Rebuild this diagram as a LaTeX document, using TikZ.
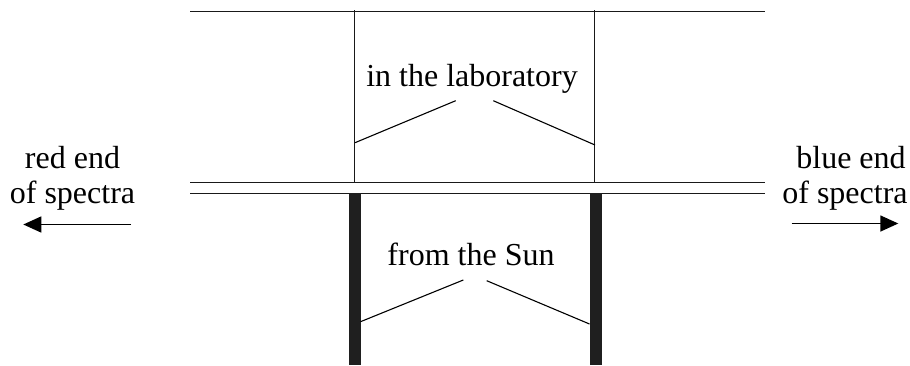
\documentclass[tikz,border=0pt]{standalone}
\usepackage{fontspec}
\setmainfont{Liberation Serif}
\usetikzlibrary{arrows.meta}
\begin{document}
\begin{tikzpicture}[x=1pt,y=-1pt,
  lbl/.style={inner sep=0pt,anchor=base,font=\fontsize{32}{38}\selectfont},
  rule/.style={line width=1.5pt,black!90},
  thin/.style={line width=1.3pt,black!90},
  ptr/.style={line width=1.1pt},
  bar/.style={fill=black!88,draw=none},
  arr/.style={line width=1.5pt,-{Triangle[length=18pt,width=16pt]}}]
\useasboundingbox (0,0) rectangle (910,365);
% horizontal rules
\coordinate (tl) at (190,11.7); \coordinate (tr) at (765,11.7);
\coordinate (ml) at (190,182.7); \coordinate (mr) at (765,182.7);
\coordinate (bl) at (190,193.3); \coordinate (br) at (765,193.3);
\draw[rule] (tl) -- (tr);
\draw[rule] (ml) -- (mr);
\draw[rule] (bl) -- (br);
% thin verticals (laboratory)
\coordinate (v1t) at (354.5,10); \coordinate (v1b) at (354.5,182.7);
\coordinate (v2t) at (594.5,10); \coordinate (v2b) at (594.5,182.7);
\draw[thin] (v1t) -- (v1b);
\draw[thin] (v2t) -- (v2b);
% thick bars (Sun)
\fill[bar] (348.5,193.3) rectangle (360.5,365);
\fill[bar] (589.5,193.3) rectangle (601.5,365);
% labels
\node[lbl] (lab) at (472,86.7) {in the laboratory};
\node[lbl] (sun) at (471,265) {from the Sun};
\node[lbl] (red1) at (72.5,168) {red end};
\node[lbl] (red2) at (72.5,203.3) {of spectra};
\node[lbl] (blue1) at (851,168) {blue end};
\node[lbl] (blue2) at (845,203.3) {of spectra};
% pointer lines
\coordinate (la) at (355,142.7); \coordinate (lb) at (455.7,100.7);
\coordinate (lc) at (493.3,100.7); \coordinate (ld) at (595,145);
\draw[ptr] (la) -- (lb);
\draw[ptr] (lc) -- (ld);
\coordinate (sa) at (360.5,321.7); \coordinate (sb) at (463.3,280);
\coordinate (sc) at (486.7,280.7); \coordinate (sd) at (589.5,324);
\draw[ptr] (sa) -- (sb);
\draw[ptr] (sc) -- (sd);
% arrows
\coordinate (ra) at (131,224.5); \coordinate (rb) at (23.3,224.5);
\coordinate (ba) at (791.7,223.5); \coordinate (bb) at (898.3,223.5);
\draw[arr] (ra) -- (rb);
\draw[arr] (ba) -- (bb);
\end{tikzpicture}
\end{document}
